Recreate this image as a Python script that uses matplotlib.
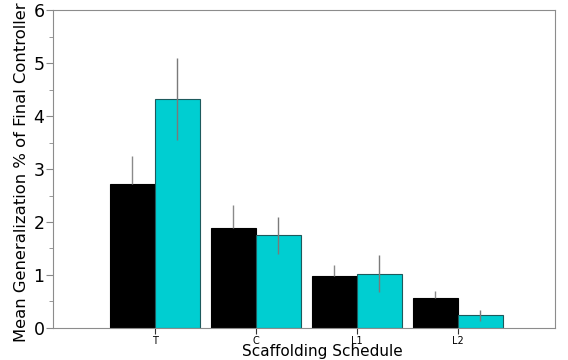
import numpy as np
import matplotlib.pyplot as plt

# ---------------- data ----------------
schedules = ['T', 'C', 'L1', 'L2']
black_means = [2.72, 1.88, 0.98, 0.57]
black_err = [0.52, 0.44, 0.21, 0.13]
cyan_means = [4.32, 1.75, 1.02, 0.24]
cyan_err = [0.77, 0.35, 0.35, 0.10]

x = np.arange(len(schedules))
width = 0.445

fig = plt.figure(figsize=(5.68, 3.6), dpi=100)
ax = fig.add_axes([0.093, 0.089, 0.884, 0.883])

ax.bar(x - width / 2, black_means, width, color='black', edgecolor='black', linewidth=0.8, zorder=2)
ax.bar(x + width / 2, cyan_means, width, color='#00CED1', edgecolor='#1d5a5c', linewidth=0.8, zorder=2)

# error bars (black bars only show the upper half)
ax.errorbar(x - width / 2, black_means, yerr=[np.zeros(len(x)), black_err],
            fmt='none', ecolor='#8a8a8a', elinewidth=1, capsize=0, zorder=3)
ax.errorbar(x + width / 2, cyan_means, yerr=cyan_err,
            fmt='none', ecolor='#7a7a7a', elinewidth=1, capsize=0, zorder=3)

ax.set_xlim(-1.01, 3.96)
ax.set_ylim(0, 6)
ax.set_xticks(x)
ax.set_xticklabels(schedules, fontsize=7)
ax.set_yticks(range(7))
ax.set_yticks(np.arange(0.5, 6, 1), minor=True)
ax.tick_params(axis='y', which='major', labelsize=12.5, length=5, color='#888888', pad=1)
ax.tick_params(axis='y', which='minor', length=3, color='#888888')
ax.tick_params(axis='x', length=4, color='#333333', pad=2)

for s in ax.spines.values():
    s.set_color('#8c8c8c')
    s.set_linewidth(0.8)

ax.set_xlabel('Scaffolding Schedule', fontsize=11)
ax.xaxis.set_label_coords(0.536, -0.05, transform=ax.transAxes)
ax.xaxis.label.set_va('top')
ax.set_ylabel('Mean Generalization % of Final Controller', fontsize=11.8)
ax.yaxis.set_label_coords(-0.047, 0.49)
ax.yaxis.label.set_va('bottom')

fig.savefig('out.png', dpi=100)
